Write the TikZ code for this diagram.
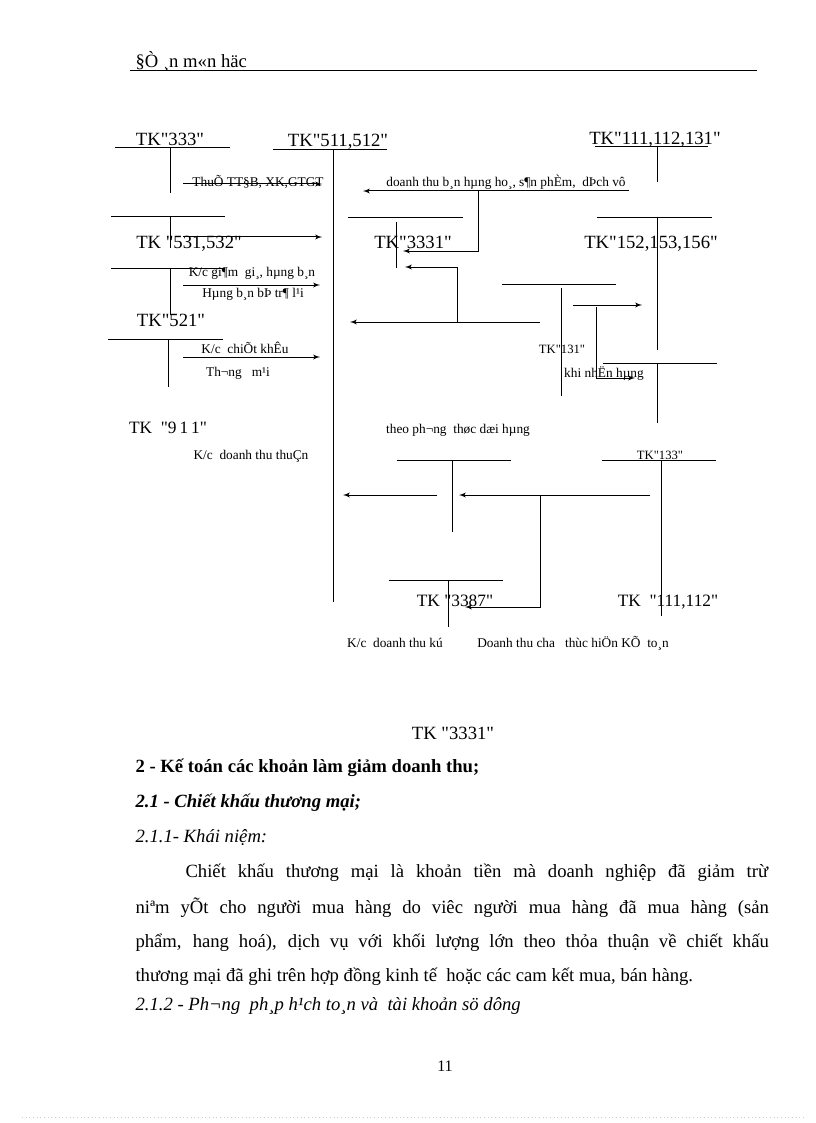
\documentclass[tikz,border=0pt]{standalone}
\usepackage{fontspec}
\setmainfont{Liberation Serif}[Ligatures=TeXOff]
\usetikzlibrary{arrows}

\begin{document}
\begin{tikzpicture}[x=0.75pt,y=-0.75pt,>=latex',line width=0.75pt,
  tk node/.style={inner sep=0pt,anchor=base,font=\fontsize{14}{16}\selectfont},
  tk mid/.style={inner sep=0pt,anchor=base,font=\fontsize{13}{15}\selectfont},
  tk small/.style={inner sep=0pt,anchor=base,font=\fontsize{9.5}{11}\selectfont},
  lbl node/.style={inner sep=0pt,anchor=base,font=\fontsize{10}{12}\selectfont},
  body node/.style={inner sep=0pt,anchor=west,font=\fontsize{14}{17}\selectfont}]
  \useasboundingbox (0,0) rectangle (816,1123);

  % page header
  \node[body node] (hdr) at (135,61) {§Ò ¸n m«n häc};
  \draw (130,71) -- (757,71);

  % account names
  \node[tk node] (tk333) at (170,146) {TK"333"};
  \node[tk node] (tk511) at (338,147) {TK"511,512"};
  \node[tk node] (tk111) at (655,145) {TK"111,112,131"};
  \node[tk node] (tk531) at (189,248) {TK "531,532"};
  \node[tk node] (tk3331) at (413,248) {TK"3331"};
  \node[tk node] (tk152) at (651,248) {TK"152,153,156"};
  \node[tk node] (tk521) at (171,326) {TK"521"};
  \node[tk mid] (tk911) at (168,433) {TK\ \ "9\,1\,1"};
  \node[tk small] (tk131) at (562,353) {TK"131"};
  \node[tk small] (tk133) at (660,459) {TK"133"};
  \node[tk mid] (tk3387) at (455,606) {TK "3387"};
  \node[tk mid] (tk111b) at (668,606) {TK\ \ "111,112"};

  % T accounts
  \draw (115,148) -- (230,148) (170,148) -- (170,193);
  \draw (273,150) -- (387,150) (333,150) -- (333,602);
  \draw (595,147) -- (708,147) (657,147) -- (657,182);
  \draw (111,217) -- (225,217) (170,217) -- (170,248);
  \draw (348,218) -- (463,218) (396,222) -- (396,268);
  \draw (597,218) -- (712,218) (657,218) -- (657,350);
  \draw (111,268) -- (225,268) (170,268) -- (170,315);
  \draw (108,339) -- (223,339) (168,339) -- (168,387);
  \draw (502,284) -- (616,284) (561,288) -- (561,396);
  \draw (603,363) -- (717,363) (657,363) -- (657,423);
  \draw (397,460) -- (511,460) (452,460) -- (452,532);
  \draw (602,460) -- (716,460) (661,460) -- (661,616);
  \draw (389,580) -- (503,580) (448,580) -- (448,627);

  % arrow ends
  \coordinate (thue s) at (183,184); \coordinate (thue e) at (322,184);
  \coordinate (dt s) at (629,191); \coordinate (dt e) at (363,191);
  \coordinate (dt br) at (478,191); \coordinate (vat e) at (403,251);
  \coordinate (ck s) at (183,237); \coordinate (ck e) at (322,237);
  \coordinate (gg s) at (183,285); \coordinate (gg e) at (320,285);
  \coordinate (dh br) at (457,322); \coordinate (dh vat) at (405,267);
  \coordinate (dh s) at (540,322); \coordinate (dh e) at (350,322);
  \coordinate (kc s) at (183,357); \coordinate (kc e) at (320,357);
  \coordinate (nh s) at (573,305); \coordinate (nh e) at (642,305);
  \coordinate (nh br) at (596,307); \coordinate (nh e2) at (635,378);
  \coordinate (ky s) at (437,495); \coordinate (ky e) at (343,495);
  \coordinate (th s) at (650,495); \coordinate (th e) at (459,495);
  \coordinate (th br) at (540,495); \coordinate (th e2) at (465,607);

  \path[->]
     (thue s) edge (thue e)
     (dt s)   edge (dt e)
     (ck s)   edge (ck e)
     (gg s)   edge (gg e)
     (dh s)   edge (dh e)
     (kc s)   edge (kc e)
     (nh s)   edge (nh e)
     (ky s)   edge (ky e)
     (th s)   edge (th e);
  \draw[->] (dt br) |- (vat e);
  \draw[->] (dh br) |- (dh vat);
  \draw[->] (nh br) |- (nh e2);
  \draw[->] (th br) |- (th e2);

  % entry labels
  \node[lbl node] (thue) at (258,187) {ThuÕ TT§B, XK,GTGT};
  \node[lbl node] (dthu) at (506,187) {doanh thu b¸n hµng ho¸, s¶n phÈm,\ \ dÞch vô};
  \node[lbl node] (kcgiam) at (252,276) {K/c gi¶m\ \ gi¸, hµng b¸n};
  \node[lbl node] (hangban) at (253,297) {Hµng b¸n bÞ tr¶ l¹i};
  \node[lbl node] (kcck) at (245,353) {K/c\ \ chiÕt khÊu};
  \node[lbl node] (tmai) at (238,376) {Th¬ng\ \ \ m¹i};
  \node[lbl node] (theo) at (458,433) {theo ph¬ng\ \ thøc dæi hµng};
  \node[lbl node] (kcthuan) at (251,459) {K/c\ \ doanh thu thuÇn};
  \node[lbl node] (khinhan) at (604,377) {khi nhËn hµng};
  \node[lbl node] (kcky) at (395,647) {K/c\ \ doanh thu kú};
  \node[lbl node] (chuath) at (573,647) {Doanh thu cha\ \ \ thùc hiÖn KÕ\ \ to¸n};

  % text below the diagram
  \node[tk node] (tk3331b) at (453,739) {TK "3331"};
  \node[body node,font=\fontsize{14}{17}\selectfont\bfseries] (sec2) at (135,768)
     {2 - Kế toán các khoản làm giảm doanh thu;};
  \node[body node,font=\fontsize{14}{17}\selectfont\bfseries\itshape] (sec21) at (135,803)
     {2.1 - Chiết khấu thương mại;};
  \node[body node,font=\fontsize{14}{17}\selectfont\itshape] (sec211) at (135,838)
     {2.1.1- Khái niệm:};
  \node[body node] (par1) at (185,873)
     {\makebox[437pt][s]{Chiết khấu thương mại là khoản tiền mà doanh nghiệp đã giảm trừ}};
  \node[body node] (par2) at (135,908)
     {\makebox[475pt][s]{niªm yÕt cho người mua hàng do viêc người mua hàng đã mua hàng (sản}};
  \node[body node] (par3) at (135,943)
     {\makebox[475pt][s]{phẩm, hang hoá), dịch vụ với khối lượng lớn theo thỏa thuận về chiết khấu}};
  \node[body node] (par4) at (135,977)
     {thương mại đã ghi trên hợp đồng kinh tế\ \ hoặc các cam kết mua, bán hàng.};
  \node[body node,font=\fontsize{14}{17}\selectfont\itshape] (sec212) at (135,1006)
     {2.1.2 - Ph¬ng\ \ ph¸p h¹ch to¸n và\ \ tài khoản sö dông};

  \node[inner sep=0pt,font=\fontsize{12}{14}\selectfont] (pg) at (445,1066) {11};
  \draw[gray!40,dotted] (22,1117) -- (805,1117);
\end{tikzpicture}
\end{document}
